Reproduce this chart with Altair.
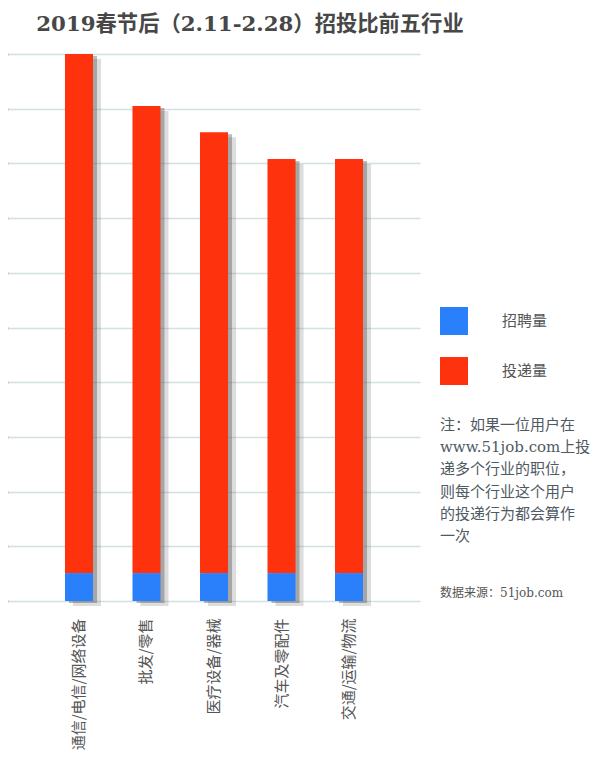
import altair as alt
import pandas as pd

industries = ["通信/电信/网络设备", "批发/零售", "医疗设备/器械", "汽车及零配件", "交通/运输/物流"]
recruit = [0.51, 0.51, 0.51, 0.51, 0.51]          # 招聘量 (blue)
applications = [9.49, 8.54, 8.06, 7.57, 7.57]     # 投递量 (red)
series_names = ["招聘量", "投递量"]
series_colors = ["#2a80fa", "#fe320d"]
y_ticks = list(range(0, 11))

note_lines = ["注：如果一位用户在", "www.51job.com上投", "递多个行业的职位，",
              "则每个行业这个用户", "的投递行为都会算作", "一次"]
source_text = "数据来源：51job.com"
title_text = "2019春节后（2.11-2.28）招投比前五行业"

rows = []
for ind, r, a in zip(industries, recruit, applications):
    rows.append({"industry": ind, "series": series_names[0], "value": r, "k": 0})
    rows.append({"industry": ind, "series": series_names[1], "value": a, "k": 1})
df = pd.DataFrame(rows)
tot = pd.DataFrame({"industry": industries,
                    "total": [r + a for r, a in zip(recruit, applications)]})

xenc = alt.X("industry:N", sort=industries,
             scale=alt.Scale(paddingInner=0.585, paddingOuter=0.844),
             axis=alt.Axis(title=None, labelAngle=270, labelPadding=17, ticks=False, domain=False,
                           labelFontSize=15, labelColor="#555555", labelFont="Noto Sans CJK SC",
                           labelLimit=300))
yscale = alt.Scale(domain=[0, 10], nice=False)
yaxis = alt.Axis(title=None, values=y_ticks, labels=False, domain=False, grid=True,
                 gridColor="#d3e0e4", gridWidth=1.5, tickSize=4, tickWidth=3, tickColor="#a7bcc4")

shadow1 = alt.Chart(tot).mark_bar(color="#777777", opacity=0.25, xOffset=8, yOffset=5).encode(
    x=xenc, y=alt.Y("total:Q", scale=yscale, axis=yaxis))
shadow2 = alt.Chart(tot).mark_bar(color="#555555", opacity=0.4, xOffset=4, yOffset=2).encode(
    x=xenc, y=alt.Y("total:Q", scale=yscale, axis=yaxis))

bars = alt.Chart(df).mark_bar().encode(
    x=xenc,
    y=alt.Y("value:Q", stack="zero", scale=yscale, axis=yaxis),
    color=alt.Color("series:N",
                    scale=alt.Scale(domain=series_names, range=series_colors),
                    legend=alt.Legend(orient="none", legendX=432, legendY=253, title=None,
                                      symbolType="square", symbolSize=784, symbolStrokeWidth=0,
                                      symbolOpacity=1, labelOffset=34, rowPadding=22,
                                      labelFontSize=15, labelColor="#555555",
                                      labelFont="Noto Sans CJK SC")),
    order=alt.Order("k:Q"),
)

notes = alt.Chart(pd.DataFrame({"a": [0]})).mark_text(
    align="left", baseline="alphabetic", fontSize=15, color="#4f5a63", lineHeight=22.2,
    font="DejaVu Serif, Noto Sans CJK SC", text=note_lines).encode(
    x=alt.value(432), y=alt.value(376))

source = alt.Chart(pd.DataFrame({"t": [source_text]})).mark_text(
    align="left", baseline="middle", fontSize=12, color="#555555",
    font="DejaVu Serif, Noto Sans CJK SC").encode(
    x=alt.value(432), y=alt.value(539), text="t:N")

chart = alt.layer(shadow1, shadow2, bars, notes, source).properties(
    width=412, height=547,
    padding={"left": 0, "top": 46, "right": 172, "bottom": 163},
    autosize=alt.AutoSizeParams(type="none"),
    title=alt.TitleParams(title_text, fontSize=21.3, font="DejaVu Serif, Noto Sans CJK SC",
                          fontWeight="bold", color="#474747", anchor="middle", dx=36, offset=17),
).configure_view(stroke=None)

chart.save("out.html", embed_options={"renderer": "svg", "actions": False})
